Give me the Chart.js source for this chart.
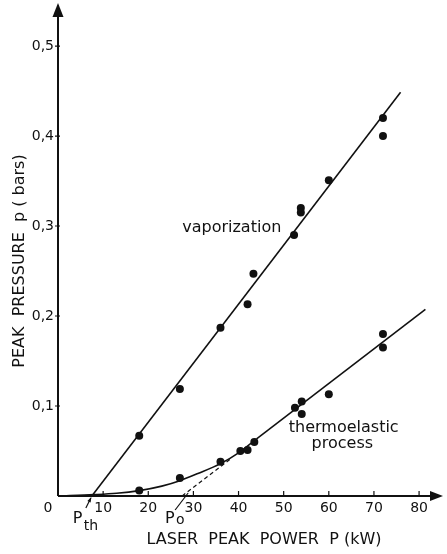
<!DOCTYPE html>
<html><head><meta charset="utf-8">
<script src="https://cdn.jsdelivr.net/npm/chart.js@4/dist/chart.umd.min.js"></script>
<style>html,body{margin:0;padding:0;background:#fff}</style>
</head><body>
<canvas id="c" width="447" height="554" style="display:block;width:447px;height:554px"></canvas>
<script>
// ---- data ----
const vapPower       = [18, 27, 36, 42, 43.3, 52.3, 53.8, 53.8, 60, 72, 72];
const vapPressure    = [0.067, 0.119, 0.187, 0.213, 0.247, 0.290, 0.320, 0.315, 0.351, 0.420, 0.400];
const thermoPower    = [18, 27, 36, 40.4, 42, 43.5, 52.5, 54, 54, 60, 72, 72];
const thermoPressure = [0.006, 0.020, 0.038, 0.050, 0.051, 0.060, 0.098, 0.105, 0.091, 0.113, 0.180, 0.165];
const vapFitPower      = [7.5, 75.9];
const vapFitPressure   = [0, 0.4486];
const thermoCurvePower    = [0, 8, 13, 18, 23, 27, 31, 36, 40, 44];
const thermoCurvePressure = [0, 0.0015, 0.003, 0.006, 0.011, 0.017, 0.025, 0.036, 0.048, 0.0635];
const thermoLinePower    = [44, 81.4];
const thermoLinePressure = [0.0635, 0.2075];
const extrapPower    = [27.5, 38.2];
const extrapPressure = [0, 0.041];
const xTicks = [10, 20, 30, 40, 50, 60, 70, 80];
const xTickLabels = ['10', '20', '30', '40', '50', '60', '70', '80'];
const yTicks = [0.1, 0.2, 0.3, 0.4, 0.5];
const yTickLabels = ['0,1', '0,2', '0,3', '0,4', '0,5'];
const P_th = 7.5, P_o = 27.5;

const pts = (xs, ys) => xs.map((x, i) => ({x, y: ys[i]}));
const FONT = '"DejaVu Sans", sans-serif';
const INK = '#111';

const decor = {
  id: 'decor',
  afterDraw(chart) {
    const {ctx, chartArea: a, scales: {x, y}} = chart;
    const x0 = x.getPixelForValue(0), y0 = y.getPixelForValue(0);
    ctx.save();
    ctx.strokeStyle = INK; ctx.fillStyle = INK; ctx.lineWidth = 2;
    // axes
    ctx.beginPath();
    ctx.moveTo(x0, y0); ctx.lineTo(x0, a.top + 8);
    ctx.moveTo(x0, y0); ctx.lineTo(a.right - 8, y0);
    ctx.stroke();
    // arrow heads
    ctx.beginPath();
    ctx.moveTo(x0, a.top - 2); ctx.lineTo(x0 - 5.5, a.top + 12); ctx.lineTo(x0 + 5.5, a.top + 12); ctx.closePath(); ctx.fill();
    ctx.beginPath();
    ctx.moveTo(a.right, y0); ctx.lineTo(a.right - 13, y0 - 5); ctx.lineTo(a.right - 13, y0 + 5); ctx.closePath(); ctx.fill();
    // tick marks
    ctx.lineWidth = 1.2;
    ctx.beginPath();
    yTicks.forEach(v => { const p = y.getPixelForValue(v); ctx.moveTo(x0 - 3, p); ctx.lineTo(x0 + 2, p); });
    xTicks.forEach(v => { const p = x.getPixelForValue(v); ctx.moveTo(p, y0); ctx.lineTo(p, y0 - 5); });
    ctx.stroke();
    // origin label
    ctx.font = '14px ' + FONT; ctx.textAlign = 'center'; ctx.textBaseline = 'top';
    ctx.fillText('0', x0 - 10, y0 + 5);
    // P_th marker
    const pth = x.getPixelForValue(P_th);
    ctx.lineWidth = 1.2;
    ctx.beginPath(); ctx.moveTo(pth - 6, y0 + 12); ctx.lineTo(pth - 1, y0 + 2); ctx.stroke();
    ctx.beginPath(); ctx.moveTo(pth - 0.5, y0 + 1); ctx.lineTo(pth - 4.5, y0 + 5); ctx.lineTo(pth - 1.2, y0 + 6.5); ctx.closePath(); ctx.fill();
    ctx.textAlign = 'left'; ctx.textBaseline = 'alphabetic';
    ctx.font = '16px ' + FONT; ctx.fillText('P', pth - 19, y0 + 27);
    ctx.font = '14px ' + FONT; ctx.fillText('th', pth - 8, y0 + 34);
    // P_o marker
    const po = x.getPixelForValue(P_o);
    ctx.beginPath(); ctx.moveTo(po - 7, y0 + 14); ctx.lineTo(po + 6, y0 - 3); ctx.stroke();
    ctx.font = '16px ' + FONT; ctx.fillText('P', po - 17, y0 + 27);
    ctx.font = '14px ' + FONT; ctx.fillText('o', po - 6, y0 + 28);
    // curve labels
    ctx.font = '16px ' + FONT; ctx.textAlign = 'center'; ctx.textBaseline = 'middle';
    ctx.fillText('vaporization', x.getPixelForValue(38.5), y.getPixelForValue(0.298));
    ctx.fillText('thermoelastic', x.getPixelForValue(63.3), y.getPixelForValue(0.0756));
    ctx.fillText('process', x.getPixelForValue(63.0), y.getPixelForValue(0.058));
    // axis titles
    ctx.font = '16px ' + FONT;
    ctx.fillText('LASER  PEAK  POWER  P (kW)', 264, 540);
    ctx.translate(20, 261); ctx.rotate(-Math.PI / 2);
    ctx.fillText('PEAK  PRESSURE  p ( bars)', 0, 0);
    ctx.restore();
  }
};

const lineDs = (data, extra) => Object.assign({
  type: 'line', data, borderColor: INK, borderWidth: 1.6, pointRadius: 0, fill: false, tension: 0
}, extra);

new Chart(document.getElementById('c'), {
  type: 'scatter',
  data: {
    datasets: [
      {data: pts(vapPower, vapPressure), backgroundColor: INK, borderColor: INK, pointRadius: 4, pointBorderWidth: 0},
      {data: pts(thermoPower, thermoPressure), backgroundColor: INK, borderColor: INK, pointRadius: 4, pointBorderWidth: 0},
      lineDs(pts(vapFitPower, vapFitPressure)),
      lineDs(pts(thermoCurvePower, thermoCurvePressure), {cubicInterpolationMode: 'monotone'}),
      lineDs(pts(thermoLinePower, thermoLinePressure)),
      lineDs(pts(extrapPower, extrapPressure), {borderDash: [4, 3], borderWidth: 1.2})
    ]
  },
  options: {
    responsive: false, animation: false, devicePixelRatio: 1,
    layout: {padding: {left: 0, top: 5, right: 1, bottom: 0}},
    plugins: {legend: {display: false}, tooltip: {enabled: false}},
    scales: {
      x: {
        type: 'linear', min: 0, max: 85.3,
        afterFit: s => { s.height = 58; s.paddingLeft = 0; s.paddingRight = 0; },
        afterBuildTicks: s => { s.ticks = xTicks.map(v => ({value: v})); },
        grid: {display: false, drawTicks: false, tickLength: 0}, border: {display: false},
        ticks: {callback: (v, i) => xTickLabels[i], color: INK, font: {family: FONT, size: 14}, padding: 4, maxRotation: 0, autoSkip: false}
      },
      y: {
        type: 'linear', min: 0, max: 0.5456,
        afterFit: s => { s.width = 58; s.paddingTop = 0; s.paddingBottom = 0; },
        afterBuildTicks: s => { s.ticks = yTicks.map(v => ({value: v})); },
        grid: {display: false, drawTicks: false, tickLength: 0}, border: {display: false},
        ticks: {callback: (v, i) => yTickLabels[i], color: INK, font: {family: FONT, size: 14}, padding: 4, autoSkip: false}
      }
    }
  },
  plugins: [decor]
});
</script>
</body></html>
